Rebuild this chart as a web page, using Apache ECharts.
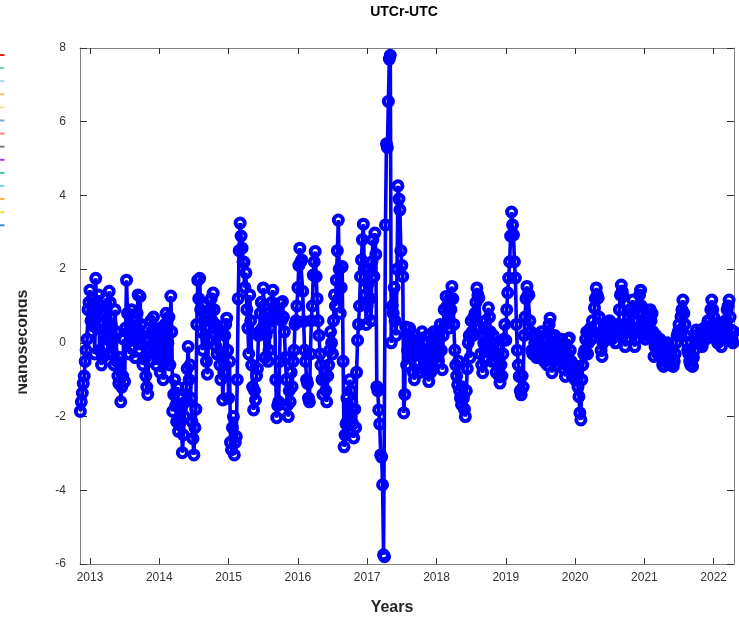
<!DOCTYPE html>
<html><head><meta charset="utf-8">
<script src="https://cdn.jsdelivr.net/npm/echarts@6/dist/echarts.min.js"></script>
<style>html,body{margin:0;padding:0;background:#fff}#c{width:739px;height:617px}</style>
</head><body><div id="c"></div>
<script>
// ---- data (UTCr-UTC, nanoseconds) ----
const yearTicks = [2013, 2014, 2015, 2016, 2017, 2018, 2019, 2020, 2021, 2022];
// main samples (every 1/36 year) and in-between samples (offset by half a step)
const tail2012 = [-1.86, -1.36, -0.9, -0.2, 0.9];
const tail2012b = [-1.6, -1.1, -0.5, 0.1, 1.1];
const y2013 = [1.43, 0.3, 0.9, 1.75, 0.9, -0.2, -0.6, 0.8, 1.2, 0.1, 1.4, 0.5, -0.3, 0.9, -0.5, -1.1, -1.6, -0.9, -1.05, 1.7, 0.3, 0.5, -0.1, 0.6, 0.1, 1.3, 1.26, 0.2, -0.4, -0.9, -1.4, -0.5, 0.3, 0.7, 0.0, -0.3];
const y2013b = [0.6, 1.2, -0.3, 0.4, 1.3, 0.5, -0.4, 0.2, 1.0, -0.3, 1.1, 0.0, -0.6, 0.3, -0.9, -0.4, -1.2, 0.1, 0.4, 0.8, -0.3, 0.9, 0.3, -0.4, 0.8, -0.2, 0.5, -0.6, 0.1, -1.2, -0.2, 0.6, -0.1, 0.4, -0.6, 0.2];
const y2014 = [-0.3, 0.4, -1.0, 0.5, -0.5, 0.7, 1.27, -1.86, -1.0, -2.14, -2.4, -1.5, -2.98, -2.0, -1.2, -0.1, -0.6, -2.14, -3.04, -1.8, 1.7, 1.75, 0.3, 1.0, 0.2, -0.85, 0.4, 1.2, 1.35, 0.5, -0.3, 0.3, -1.0, -1.55, 0.2, 0.67];
const y2014b = [-0.8, 0.2, -0.4, 0.8, 0.0, -0.6, 0.3, -1.4, -1.7, -1.2, -2.2, -1.8, -2.5, -1.6, -0.7, -1.0, -1.5, -2.6, -2.3, 0.5, 1.2, 0.9, -0.2, 0.6, -0.5, 0.1, 0.9, 0.6, 0.9, -0.1, 0.4, -0.6, -0.3, -0.8, 0.5, -0.2];
const y2015 = [-1.5, -2.7, -2.3, -3.04, -2.54, 1.2, 3.25, 2.57, 2.19, 1.9, 0.4, 1.3, -0.6, -1.82, -1.55, -0.7, 0.3, 1.1, 1.49, -0.4, 0.8, -0.2, 0.7, 1.43, 0.9, -2.03, -1.6, 1.08, 1.12, 0.3, -1.0, -2.0, -1.6, -1.19, -0.2, 0.6];
const y2015b = [-0.5, -2.9, -2.0, -2.7, -1.0, 2.5, 2.9, 2.2, 1.5, 0.9, -0.3, 0.6, -1.2, -1.3, -0.9, 0.2, 0.8, 0.4, 1.0, 0.2, -0.5, 0.4, 1.1, 0.8, -1.0, -1.7, -0.5, 0.6, 0.7, -0.4, -1.7, -1.3, -0.8, -0.5, 0.5, 1.0];
const y2016 = [1.5, 2.57, 2.25, 0.58, -0.5, -1.1, -1.6, 0.6, 1.84, 2.48, 1.2, 0.2, -0.6, -1.4, -0.8, -1.6, -0.6, 0.3, -0.3, 1.3, 1.7, 3.33, 0.8, 2.07, -2.82, -2.2, -2.1, -1.0, -1.6, -2.58, -2.3, 0.07, 1.0, 2.25, 3.22, 1.3];
const y2016b = [2.1, 2.2, 1.4, -0.2, -1.0, -1.5, -0.3, 1.0, 2.2, 1.8, 0.6, -0.3, -1.0, -1.0, -1.3, -0.9, -0.2, 0.0, 0.6, 1.0, 2.5, 2.0, 1.5, -0.5, -2.5, -1.5, -2.4, -1.3, -2.2, -1.8, -0.8, 0.5, 1.8, 2.8, 2.0, 0.5];
const y2017 = [1.0, 2.0, 0.6, 2.8, 2.98, -1.19, -1.82, -3.04, -3.85, -5.8, 5.4, 6.55, 7.8, 1.0, 1.5, 0.2, 4.26, 3.61, 2.1, -1.9, 0.43, -0.2, 0.4, -0.3, -0.8, 0.2, -0.5, 0.1, -0.2, -0.7, 0.0, -0.5, -1.05, -0.8, -0.2, 0.2];
const y2017b = [1.6, 1.2, 2.2, 1.8, 2.4, -1.3, -2.2, -3.1, -5.75, 3.2, 5.3, 7.7, 0.0, 0.8, 0.6, 2.0, 3.9, 2.5, 1.8, -1.4, -0.6, 0.2, -0.4, 0.1, -1.0, -0.3, 0.0, -0.8, 0.3, -0.2, -0.6, 0.2, -0.7, -0.2, 0.3, -0.4];
const y2018 = [0.2, -0.5, 0.5, -0.73, 0.9, 1.26, 0.8, 1.2, 1.53, 0.5, -0.6, -1.14, -1.3, -1.68, -1.5, -2.0, -0.7, 0.2, 0.6, 0.2, 0.8, 1.49, 1.22, -0.3, -0.81, 0.4, -0.2, 0.95, 0.3, -0.5, 0.0, -0.8, -0.4, -1.09, -0.9, 0.1];
const y2018b = [-0.3, 0.3, -0.2, 0.2, 0.5, 1.0, 0.4, 0.9, 1.2, -0.2, -0.9, -0.5, -1.5, -1.2, -1.8, -1.3, 0.0, -0.4, 0.3, 0.7, 1.1, 1.3, 0.4, -0.6, 0.0, 0.6, 0.3, 0.7, -0.3, 0.2, -0.5, -0.1, -0.9, -0.6, -0.3, 0.5];
const y2019 = [0.07, 1.36, 2.2, 3.55, 2.93, 1.76, -0.2, -0.91, -1.41, -1.2, 0.7, 1.53, 1.3, 0.3, -0.3, 0.0, -0.4, 0.2, -0.2, 0.1, -0.5, -0.3, 0.3, 0.67, -0.81, -0.3, 0.0, -0.6, -0.2, 0.1, -0.7, -0.91, -0.3, 0.13, -0.5, -0.8];
const y2019b = [0.9, 1.76, 2.9, 3.2, 2.2, 0.5, -0.6, -1.3, -0.9, 0.2, 1.2, 1.3, 0.6, -0.2, 0.2, -0.3, 0.1, -0.4, 0.3, -0.4, 0.0, -0.6, 0.5, 0.2, -0.5, 0.2, -0.4, 0.0, -0.5, -0.2, -0.4, -0.6, 0.1, -0.2, -0.9, -0.6];
const y2020 = [-1.0, -0.91, -1.46, -2.09, -0.6, -0.2, 0.3, 0.0, 0.4, 0.6, 0.95, 1.49, 1.22, 0.2, -0.37, 0.2, 0.5, 0.3, 0.6, 0.1, 0.4, 0.0, 0.5, 0.9, 1.57, 1.26, -0.1, 0.3, 0.7, 0.4, 1.16, -0.1, 0.3, 1.0, 1.43, 0.6];
const y2020b = [-0.7, -1.2, -1.9, -1.0, -0.3, 0.1, -0.3, 0.3, 0.1, 0.3, 1.2, 1.3, 0.7, -0.2, 0.0, 0.4, 0.1, 0.5, 0.2, 0.5, 0.2, 0.4, 0.2, 1.3, 1.4, 0.5, 0.1, 0.5, 0.9, 0.8, 0.3, 0.1, 0.6, 1.3, 1.0, 0.2];
const y2021 = [0.3, 0.5, 0.2, 0.9, 0.8, -0.37, 0.2, -0.3, 0.1, -0.4, -0.64, -0.3, 0.0, -0.2, -0.5, -0.64, -0.3, 0.2, 0.5, 0.71, 1.16, 0.5, 0.0, -0.3, -0.6, -0.64, -0.2, 0.35, 0.0, 0.3, -0.1, 0.4, 0.1, 0.6, 0.62, 1.16];
const y2021b = [0.1, 0.7, 0.5, 0.6, 0.3, -0.1, -0.1, 0.0, -0.2, -0.6, -0.5, -0.1, -0.4, -0.6, -0.4, -0.5, 0.0, 0.3, 0.2, 0.9, 0.8, 0.2, -0.2, -0.5, -0.4, -0.4, 0.1, 0.1, 0.2, 0.0, 0.2, 0.1, 0.4, 0.3, 0.9, 0.9];
const y2022 = [0.7, 0.3, 0.0, 0.4, -0.1, 0.3, 0.6, 0.9, 1.16, 0.35, 0.0, 0.2];
const y2022b = [0.5, 0.1, 0.2, 0.1, 0.1, 0.5, 0.4, 1.0, 0.7, 0.1, 0.3, 0.1];
const STEP = 1 / 36; // sampling step in years

// ---- build series ----
const data = [];
tail2012.forEach((v, i) => {
  const t = 2013 - (tail2012.length - i) * STEP;
  data.push([t, v]);
  data.push([t + STEP / 2, tail2012b[i]]);
});
[[2013, y2013, y2013b], [2014, y2014, y2014b], [2015, y2015, y2015b], [2016, y2016, y2016b],
 [2017, y2017, y2017b], [2018, y2018, y2018b], [2019, y2019, y2019b], [2020, y2020, y2020b],
 [2021, y2021, y2021b], [2022, y2022, y2022b]]
  .forEach(([yr, a, b]) => a.forEach((v, i) => {
    data.push([yr + i * STEP, v]);
    data.push([yr + (i + 0.5) * STEP, b[i]]);
  }));

const FONT = '"Liberation Sans", Arial, Helvetica, sans-serif';
const AX = '#808080', TK = '#333333';
const legendColors = ['#ee2222', '#7fcfb0', '#a8d8f0', '#f0c27a', '#f5e890', '#70a8d8', '#f08888',
  '#7f7f7f', '#a040e0', '#50c0a0', '#80d0f0', '#f0b040', '#f0e040', '#4090d0'];

const chart = echarts.init(document.getElementById('c'));
const xCommon = {
  type: 'value', min: 2012.856, max: 2022.293,
  axisLine: { show: true, onZero: false, lineStyle: { color: AX, width: 1 } },
  splitLine: { show: false }
};
const yCommon = {
  type: 'value', min: -6, max: 8, interval: 2,
  axisLine: { show: true, onZero: false, lineStyle: { color: AX, width: 1 } },
  axisTick: { show: true, inside: true, length: 7, lineStyle: { color: TK } },
  splitLine: { show: false }
};
chart.setOption({
  animation: false,
  backgroundColor: '#fff',
  grid: { left: 80, right: 5, top: 48, bottom: 53, containLabel: false },
  xAxis: [
    Object.assign({}, xCommon, {
      position: 'bottom',
      axisTick: { show: true, inside: true, length: 6, customValues: yearTicks, lineStyle: { color: TK } },
      axisLabel: { show: true, customValues: yearTicks, formatter: v => String(Math.round(v)), color: TK, fontSize: 12, fontFamily: FONT, margin: 8 }
    }),
    Object.assign({}, xCommon, {
      position: 'top',
      axisTick: { show: true, inside: true, length: 6, customValues: yearTicks, lineStyle: { color: TK } },
      axisLabel: { show: false }
    })
  ],
  yAxis: [
    Object.assign({}, yCommon, {
      position: 'left',
      axisLabel: { show: true, color: TK, fontSize: 12, fontFamily: FONT, margin: 14 }
    }),
    Object.assign({}, yCommon, { position: 'right', axisLabel: { show: false } })
  ],
  series: [{
    type: 'line', xAxisIndex: 0, yAxisIndex: 0,
    data: data,
    symbol: 'circle', symbolSize: 9, showAllSymbol: true,
    itemStyle: { color: 'rgba(255,255,255,0)', borderColor: '#0000ff', borderWidth: 4 },
    lineStyle: { color: '#0000ff', width: 3.6 },
    clip: true
  }],
  graphic: [
    { type: 'text', x: 404, y: 12, style: { text: 'UTCr-UTC', fontFamily: FONT, fontWeight: 'bold', fontSize: 14, fill: '#000', align: 'center', verticalAlign: 'middle' } },
    { type: 'text', x: 392, y: 608, style: { text: 'Years', fontFamily: FONT, fontWeight: 'bold', fontSize: 16, fill: '#262626', align: 'center', verticalAlign: 'middle' } },
    { type: 'text', x: 23, y: 342, rotation: Math.PI / 2, z: 1, style: { text: 'Nanoseconds', fontFamily: FONT, fontWeight: 'bold', fontSize: 16, fill: '#262626', align: 'center', verticalAlign: 'middle' } },
    { type: 'rect', z: 5, shape: { x: 0, y: 40, width: 18.5, height: 400 }, style: { fill: '#fff' } }
  ].concat(legendColors.map((c, k) => ({
    type: 'line', z: 6, shape: { x1: 0, y1: 55 + 13.1 * k, x2: 4.5, y2: 55 + 13.1 * k }, style: { stroke: c, lineWidth: 2 }
  })))
});
</script>
</body></html>
